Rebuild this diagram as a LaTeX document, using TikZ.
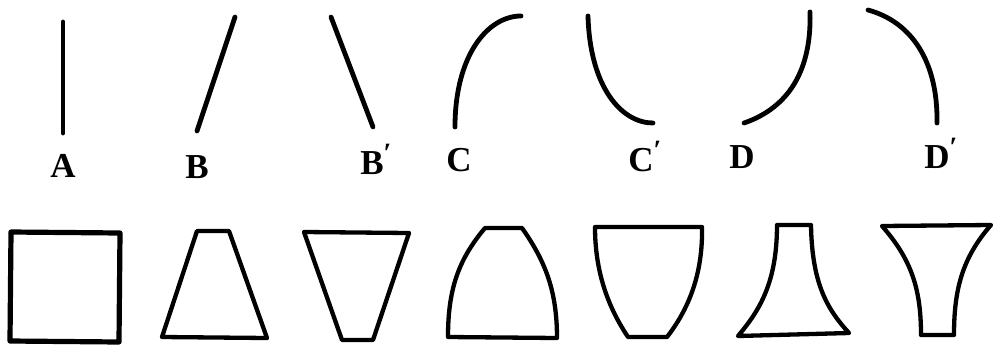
\documentclass[tikz,border=0pt]{standalone}
\usepackage{fontspec}
\setmainfont{Liberation Serif}
\usepackage{tikz}

\newcommand{\pr}{\raisebox{0.32em}{\fontsize{28}{28}\selectfont ′}}

\begin{document}
\begin{tikzpicture}[
  x=1pt,y=-1pt,
  stroke/.style={line width=4.8pt,line cap=round},
  outline/.style={line width=4.3pt,line join=round},
  lbl/.style={font=\fontsize{35}{40}\selectfont\bfseries,inner sep=0pt,anchor=base}
]
\useasboundingbox (0,0) rectangle (994,349);
% top row: strokes and their letters
\draw[stroke] (63,22) -- (63,133);
\draw[stroke] (197,131) -- (235,17);
\draw[stroke] (331,17) -- (373,127);
\draw[stroke] (455,127) .. controls (455,55) and (488,16) .. (521,16);
\draw[stroke] (588,16) .. controls (590,88) and (622,123) .. (653,123);
\draw[stroke] (744,123) .. controls (782,110) and (812,78) .. (810,12);
\draw[stroke] (868,10) .. controls (912,22) and (938,62) .. (937,123);
\node[lbl] (la) at (63,177) {A};
\node[lbl] (lb) at (197,178) {B};
\node[lbl] (lbp) at (376,174) {B\pr};
\node[lbl] (lc) at (459,171) {C};
\node[lbl] (lcp) at (645,171) {C\pr};
\node[lbl] (ld) at (742,168) {D};
\node[lbl] (ldp) at (941,168) {D\pr};
% bottom row: the outlines
\draw[outline,line width=5.2pt] (11,232) -- (120,233) -- (119,342) -- (10,341) -- cycle;
\draw[outline] (197,231) -- (229,231) -- (267,338) -- (162,337) -- cycle;
\draw[outline] (304,232) -- (409,233) -- (373,340) -- (342,340) -- cycle;
\draw[outline] (485,228) -- (522,228) .. controls (546,262) and (557,292) .. (557,338)
  -- (448,337) .. controls (448,290) and (458,260) .. cycle;
\draw[outline] (595,227) -- (702,227) .. controls (703,275) and (688,310) .. (667,337)
  -- (628,337) .. controls (610,310) and (595,275) .. cycle;
\draw[outline] (777,225) -- (811,225) .. controls (812,285) and (828,310) .. (849,333)
  -- (738,336) .. controls (760,310) and (777,282) .. cycle;
\draw[outline] (882,226) -- (991,225) .. controls (962,258) and (954,290) .. (954,335)
  -- (921,335) .. controls (921,290) and (912,260) .. cycle;
\end{tikzpicture}
\end{document}
